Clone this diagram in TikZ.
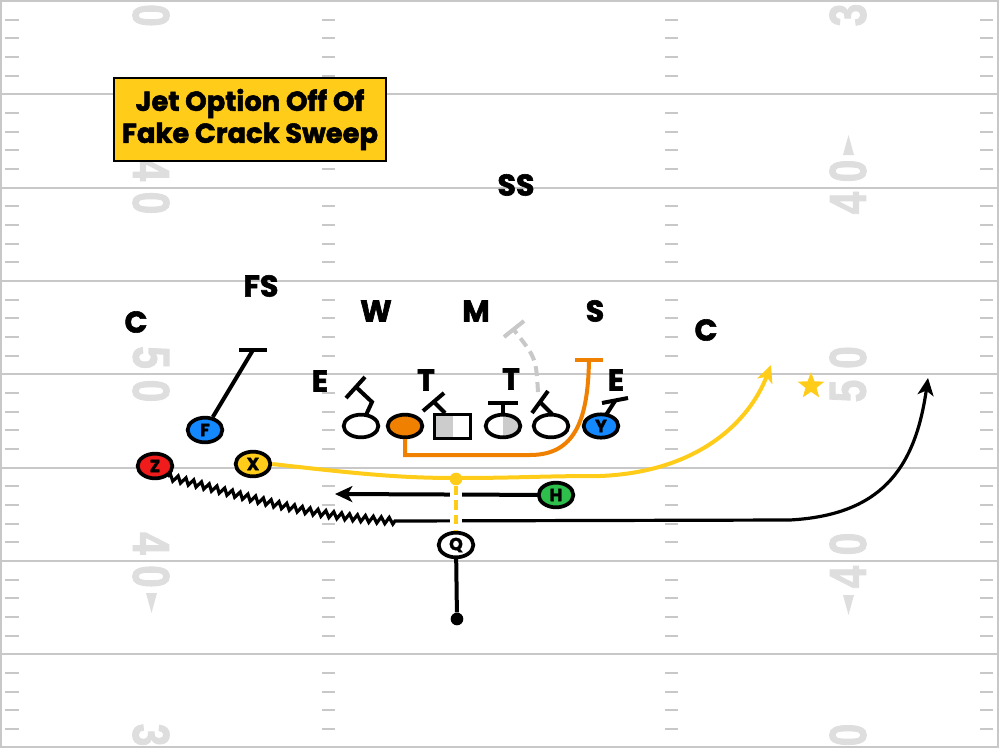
\documentclass[tikz,border=0pt]{standalone}
\usepackage{fontspec}
\setmainfont{Poppins}[BoldFeatures={FakeBold=2}]
\newfontfamily\numfont{Liberation Sans}[BoldFeatures={FakeBold=2}]
\usetikzlibrary{arrows.meta,decorations.pathmorphing,shapes.geometric}
\definecolor{fieldline}{RGB}{200,200,200}
\definecolor{numgray}{RGB}{222,222,222}
\definecolor{gold}{RGB}{255,204,26}
\definecolor{pblue}{RGB}{20,136,255}
\definecolor{pred}{RGB}{240,28,28}
\definecolor{pgreen}{RGB}{45,190,75}
\definecolor{porange}{RGB}{240,128,0}
\definecolor{lgray}{RGB}{204,204,204}
\definecolor{mgray}{RGB}{200,200,200}
\tikzset{
  lbl/.style={font=\fontsize{22.5}{24}\selectfont\bfseries, inner sep=0pt},
  player/.style={ellipse, draw=black, line width=2.8pt, minimum width=26pt, minimum height=18.5pt, inner sep=0pt, font=\fontsize{13}{13}\selectfont\bfseries},
  route/.style={line width=3pt},
  yard/.style={draw=fieldline, line width=1.6pt},
  hash/.style={draw=fieldline, line width=1.5pt},
  num/.style={text=numgray, font=\numfont\bfseries\fontsize{39}{39}\selectfont, inner sep=0pt},
  tri/.style={fill=numgray},
  arr/.style={-{Stealth[length=13pt,width=12pt,inset=3.5pt]}}
}
\begin{document}
\begin{tikzpicture}[x=0.75pt,y=-0.75pt]
\useasboundingbox (0,0) rectangle (1000,750);
% field
\foreach \k in {1,...,7} \draw[yard] (1,{1+93.333*\k}) -- (998,{1+93.333*\k});
\draw[yard] (1,1) rectangle (998,747);
\foreach \j in {1,...,39} {
  \pgfmathtruncatemacro\m{mod(\j,5)}
  \ifnum\m>0
    \draw[hash] (5,{1+18.667*\j}) -- (19,{1+18.667*\j});
    \draw[hash] (322,{1+18.667*\j}) -- (335,{1+18.667*\j});
    \draw[hash] (665,{1+18.667*\j}) -- (678,{1+18.667*\j});
    \draw[hash] (980,{1+18.667*\j}) -- (993,{1+18.667*\j});
  \fi
}
% yard numbers, left
\node[num, rotate=-90] (nl1) at (151,15.5) {\scalebox{0.78}[1]{0}};
\fill[tri] (146,153) -- (157,153) -- (151.5,133) -- cycle;
\node[num, rotate=-90] (nl2) at (151,170) {\scalebox{0.78}[1]{4}};
\node[num, rotate=-90] (nl3) at (151,203) {\scalebox{0.78}[1]{0}};
\node[num, rotate=-90] (nl4) at (151,357.5) {\scalebox{0.78}[1]{5}};
\node[num, rotate=-90] (nl5) at (151,391) {\scalebox{0.78}[1]{0}};
\node[num, rotate=-90] (nl6) at (151,543.5) {\scalebox{0.78}[1]{4}};
\node[num, rotate=-90] (nl7) at (151,576.5) {\scalebox{0.78}[1]{0}};
\fill[tri] (146,593) -- (157,593) -- (151.5,613) -- cycle;
\node[num, rotate=-90] (nl8) at (151,735) {\scalebox{0.78}[1]{3}};
% yard numbers, right
\node[num, rotate=90] (nr1) at (848,15) {\scalebox{0.78}[1]{3}};
\fill[tri] (843,155) -- (854,155) -- (848.5,135) -- cycle;
\node[num, rotate=90] (nr2) at (848,171) {\scalebox{0.78}[1]{0}};
\node[num, rotate=90] (nr3) at (848,203) {\scalebox{0.78}[1]{4}};
\node[num, rotate=90] (nr4) at (848,357.5) {\scalebox{0.78}[1]{0}};
\node[num, rotate=90] (nr5) at (848,391) {\scalebox{0.78}[1]{5}};
\node[num, rotate=90] (nr6) at (848,544) {\scalebox{0.78}[1]{0}};
\node[num, rotate=90] (nr7) at (848,577) {\scalebox{0.78}[1]{4}};
\fill[tri] (843,595) -- (854,595) -- (848.5,615) -- cycle;
\node[num, rotate=90] (nr8) at (848,735) {\scalebox{0.78}[1]{0}};
% title
\node[draw=black, line width=1.5pt, fill=gold, minimum width=204pt, minimum height=62.5pt,
      align=center, inner sep=0pt, font=\fontsize{20.5}{24}\selectfont\bfseries] (title) at (250,119.5)
      {Jet Option Off Of\\Fake Crack Sweep};
% defense labels
\node[lbl] (SS) at (516,185) {SS};
\node[lbl] (FS) at (261,286) {FS};
\node[lbl] (CL) at (136,322) {C};
\node[lbl] (W) at (376,311) {W};
\node[lbl] (M) at (476,311) {M};
\node[lbl] (S) at (595,311) {S};
\node[lbl] (CR) at (706,330) {C};
\node[lbl] (EL) at (320,381) {E};
\node[lbl] (TL) at (426,380) {T};
\node[lbl] (TR) at (511,379) {T};
\node[lbl] (ER) at (616,380) {E};
% offense
\node[player, fill=pblue] (F) at (205,430) {F};
\node[player, fill=gold] (X) at (253,464) {X};
\node[player, fill=pred] (Z) at (155,466) {Z};
\node[player, fill=pgreen] (H) at (556,495) {H};
\node[player, fill=white] (Q) at (456,545) {Q};
\node[player, fill=white, minimum height=17pt] (o1) at (361,426) {};
\node[player, fill=porange, minimum height=17pt] (o2) at (405,426) {};
\node[draw=black, fill=white, line width=2.8pt, minimum width=27pt, minimum height=18pt, inner sep=0pt,
      path picture={\fill[lgray] (path picture bounding box.south west) rectangle (path picture bounding box.north);}] (o3) at (452.5,426.5) {};
\node[player, fill=white, minimum height=17pt,
      path picture={\fill[lgray] (path picture bounding box.south) rectangle (path picture bounding box.north east);}] (o4) at (503,426) {};
\node[player, fill=white, minimum height=17pt] (o5) at (551,426) {};
\node[player, fill=pblue, minimum height=17.5pt] (Y) at (601,426) {Y};
% blocks
\draw[route] (366,415) -- (372,402) -- (356,387);
\draw[route] (346,398) -- (365,377);
\draw[route] (445,413) -- (434,402);
\draw[route] (423,411) -- (444,393);
\draw[route] (503,415) -- (503,403);
\draw[route] (488,403) -- (518,403);
\draw[route] (552,414) -- (540,402);
\draw[route] (532,413) -- (548,391);
\draw[route] (606,415) -- (615,401);
\draw[route] (602,403) -- (628,398);
% F route
\coordinate (Fend) at (253,350);
\draw[route] (F) -- (Fend);
\draw[route] (239,350) -- (267,350);
% orange pull
\coordinate (Oend) at (589,360);
\draw[route, draw=porange] (o2.south) -- (405,455) -- (530,455) .. controls (575,455) and (588,420) .. (Oend);
\draw[route, draw=porange] (575,360) -- (603,360);
% M dashed
\coordinate (Mend) at (514,330);
\draw[route, draw=mgray, dash pattern=on 7.5pt off 4.5pt] (538,392) .. controls (536,358) .. (Mend);
\draw[route, draw=mgray] (504,337) -- (524,321);
% H motion
\coordinate (Hend) at (335,494);
\draw[route, arr] (H) -- (Hend);
% Z route
\coordinate (Zend) at (928,378);
\draw[line width=2.4pt, arr] (Z.-40) decorate[decoration={zigzag, amplitude=2.4pt, segment length=6pt}]
   { .. controls (240,494) and (300,516) .. (395,521) } -- (790,520) .. controls (880,515) and (915,470) .. (Zend);
% X route
\coordinate (Xend) at (771,365);
\node[circle, fill=gold, inner sep=0pt, minimum size=9.5pt] (ydot) at (456,479) {};
\draw[route, draw=gold, arr] (X.east) .. controls (360,474) and (400,478) .. (456,478)
   .. controls (520,478) and (540,476) .. (600,476) .. controls (700,472) and (750,420) .. (Xend);
% Q
\draw[white, line width=9pt] (456,487) -- (456,529);
\draw[route, draw=gold, dash pattern=on 7pt off 4pt] (ydot) -- (Q);
\node[circle, fill=black, inner sep=0pt, minimum size=9.5pt] (qdot) at (457,619) {};
\draw[route] (Q) -- (qdot);
% star
\node[star, star points=5, star point ratio=2.4, fill=gold, minimum size=21pt, inner sep=0pt] (star) at (811,386) {};
\end{tikzpicture}
\end{document}
